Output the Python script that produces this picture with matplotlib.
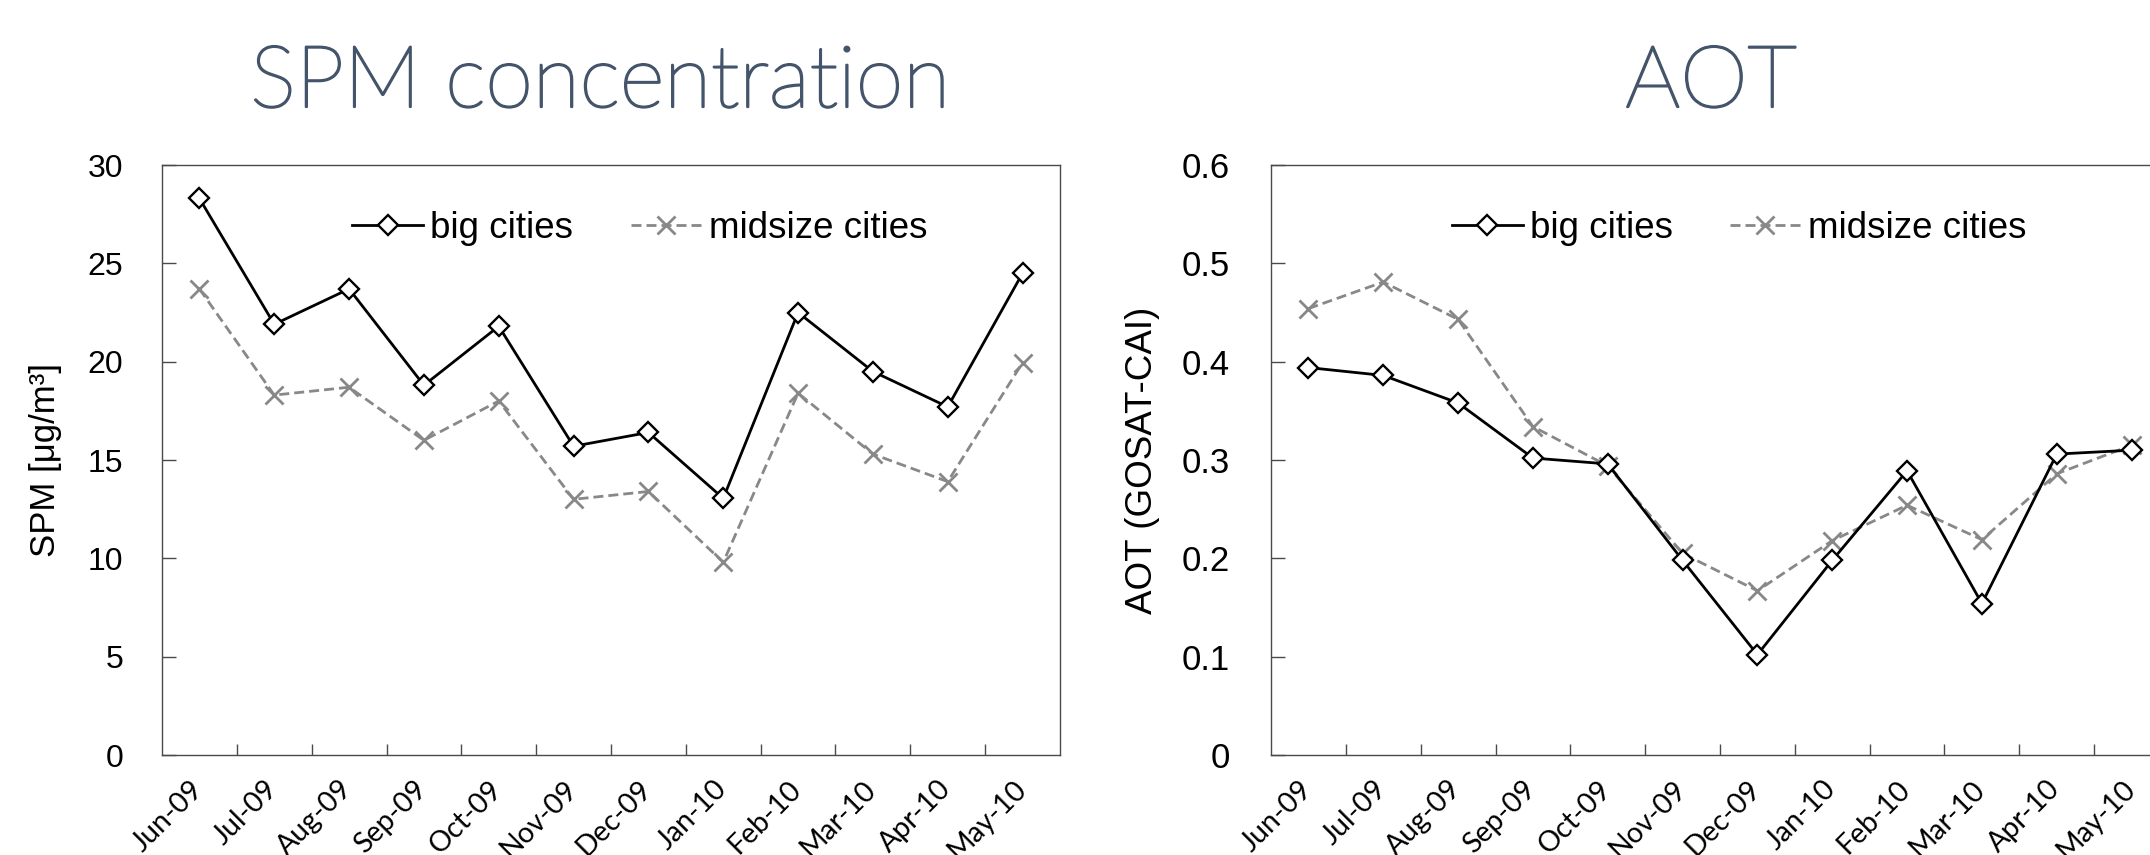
import numpy as np
import matplotlib.pyplot as plt
import matplotlib.patheffects as pe
from matplotlib.transforms import ScaledTranslation

# monthly values
months = ["Jun-09", "Jul-09", "Aug-09", "Sep-09", "Oct-09", "Nov-09",
          "Dec-09", "Jan-10", "Feb-10", "Mar-10", "Apr-10", "May-10"]

spm_big = [28.3, 21.9, 23.7, 18.8, 21.8, 15.7, 16.4, 13.05, 22.5, 19.5, 17.7, 24.5]
spm_mid = [23.7, 18.3, 18.7, 16.0, 18.0, 13.0, 13.4, 9.8, 18.4, 15.3, 13.9, 19.95]

aot_big = [0.394, 0.386, 0.358, 0.302, 0.296, 0.198, 0.102, 0.198, 0.289, 0.154, 0.306, 0.310]
aot_mid = [0.454, 0.481, 0.443, 0.334, 0.294, 0.205, 0.167, 0.218, 0.254, 0.219, 0.286, 0.315]

spm_ticks = [0, 5, 10, 15, 20, 25, 30]
aot_ticks = [0, 0.1, 0.2, 0.3, 0.4, 0.5, 0.6]

W, H = 2150, 855
fig = plt.figure(figsize=(W / 100, H / 100), dpi=100)

ARIAL = "Liberation Sans"
GRAY = "#888888"
SPINE = "#4a4a4a"


def panel(left_px, big, mid, ticks, ticklabels, tick_fs, pad, leg_x):
    ax = fig.add_axes([left_px / W, (H - 755) / H, 898 / W, 590 / H])
    x = np.arange(len(months))
    ax.plot(x, mid, color=GRAY, lw=2.0, ls=(0, (3.6, 1.8)), marker="x",
            ms=13, mew=2.0, mec=GRAY, label="midsize cities", zorder=2)
    ax.plot(x, big, color="black", lw=2.0, marker="D", ms=10, mfc="white",
            mec="black", mew=1.7, label="big cities", zorder=3)

    ax.set_xlim(-0.5, len(months) - 0.5)
    ax.set_ylim(ticks[0], ticks[-1])

    ax.set_yticks(ticks)
    ax.set_yticklabels(ticklabels, fontsize=tick_fs, family=ARIAL)
    ax.tick_params(axis="y", direction="in", length=10, width=1, color=SPINE, pad=pad)

    ax.set_xticks(x)
    ax.set_xticklabels(months, rotation=45, ha="right", va="top",
                       fontsize=20.5, family="Lato")
    ax.tick_params(axis="x", which="major", length=0, pad=15)
    shift = ScaledTranslation(6 / 72, 0, fig.dpi_scale_trans)
    for lab in ax.get_xticklabels():
        lab.set_transform(lab.get_transform() + shift)
    ax.set_xticks(np.arange(0.5, len(months) - 1), minor=True)
    ax.tick_params(axis="x", which="minor", direction="in", length=8, width=1, color=SPINE)

    for s in ax.spines.values():
        s.set_color(SPINE)
        s.set_linewidth(1.0)

    h, l = ax.get_legend_handles_labels()
    ax.legend(h[::-1], l[::-1], loc="center", bbox_to_anchor=(leg_x, 0.893),
              ncol=2, frameon=False, prop={"family": ARIAL, "size": 26.5},
              handlelength=1.93, handletextpad=0.19, columnspacing=1.55,
              borderpad=0, numpoints=1)
    return ax


ax1 = panel(162, spm_big, spm_mid, spm_ticks, [str(t) for t in spm_ticks],
            23, 28, 0.532)
ax2 = panel(1271, aot_big, aot_mid, aot_ticks,
            ["0"] + ["%.1f" % t for t in aot_ticks[1:]], 25, 29.5, 0.521)

fig.text(46 / W, 1 - 460 / H, "SPM [μg/m³]", rotation=90, ha="center",
         va="center", fontsize=25, family=ARIAL)
fig.text(1142 / W, 1 - 460 / H, "AOT (GOSAT-CAI)", rotation=90, ha="center",
         va="center", fontsize=26.5, family=ARIAL)

title_color = "#44546A"
thicken = [pe.withStroke(linewidth=1.6, foreground=title_color)]
fig.text(600 / W, 1 - 107 / H, "SPM concentration", ha="center", va="baseline",
         fontsize=62, family="Lato", fontweight="light", color=title_color,
         path_effects=thicken)
fig.text(1711 / W, 1 - 107 / H, "AOT", ha="center", va="baseline",
         fontsize=62, family="Lato", fontweight="light", color=title_color,
         path_effects=thicken)

fig.savefig("out.png", dpi=100)
